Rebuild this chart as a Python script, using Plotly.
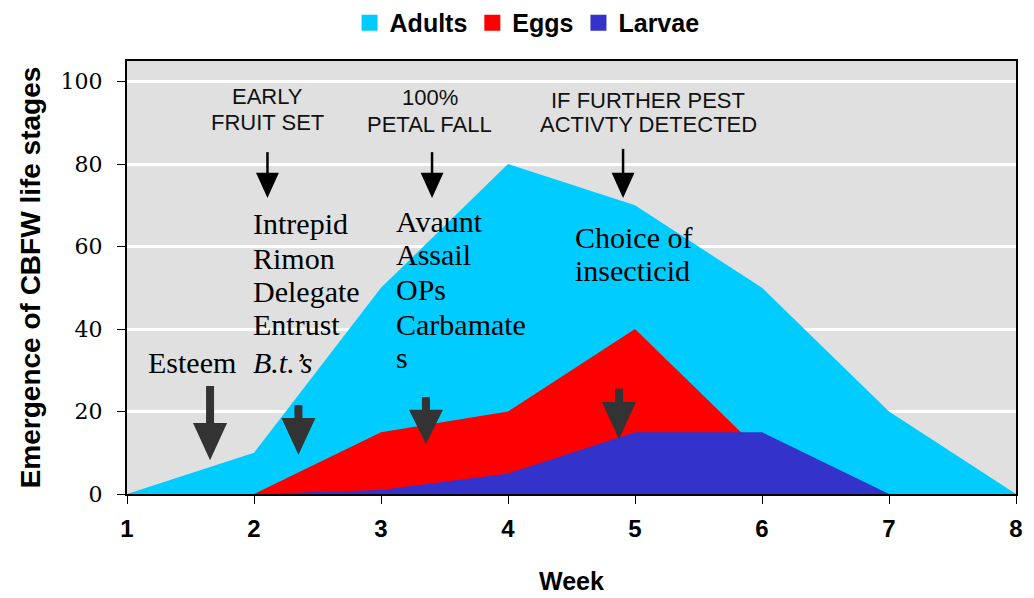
import plotly.graph_objects as go

# ---------------- data ----------------
weeks = [1, 2, 3, 4, 5, 6, 7, 8]
adults = [0, 10, 50, 80, 70, 50, 20, 0]
eggs = [0, 0, 15, 20, 40, 10, 0, 0]
larvae = [0, 0, 1, 5, 15, 15, 0, 0]

series_names = ["Adults", "Eggs", "Larvae"]
series_colors = ["#00CCFF", "#FF0000", "#3333CC"]
y_ticks = [0, 20, 40, 60, 80, 100]

fig = go.Figure()
for name, vals, col in zip(series_names, [adults, eggs, larvae], series_colors):
    fig.add_trace(go.Scatter(x=weeks, y=vals, mode="lines", fill="tozeroy",
                             fillcolor=col, line=dict(width=0, color=col),
                             name=name, showlegend=False, hoverinfo="x+y+name"))
# legend swatches
for name, col in zip(series_names, series_colors):
    fig.add_trace(go.Scatter(x=[None], y=[None], mode="markers", name=name,
                             marker=dict(symbol="square", size=18, color=col)))

# ---------------- decorations ----------------
shapes = []
DARK = "#333333"


def block_arrow(xc, y_top, y_neck, y_tip, shaft_hw=0.0315, head_hw=0.134):
    p = (f"M {xc-shaft_hw},{y_top} L {xc+shaft_hw},{y_top} L {xc+shaft_hw},{y_neck} "
         f"L {xc+head_hw},{y_neck} L {xc},{y_tip} L {xc-head_hw},{y_neck} "
         f"L {xc-shaft_hw},{y_neck} Z")
    return dict(type="path", path=p, xref="x", yref="y", fillcolor=DARK,
                line=dict(width=0), layer="above")


for xc, yt, yn, ytip in [(1.654, 26.2, 17.2, 8.2), (2.350, 21.6, 18.4, 9.5),
                         (3.354, 23.5, 20.4, 12.1), (4.874, 25.5, 22.3, 13.3)]:
    shapes.append(block_arrow(xc, yt, yn, ytip))


def thin_arrow(xc, y_top, y_tip, head_len=6.1, head_hw=0.09):
    line = dict(type="line", x0=xc, x1=xc, y0=y_top, y1=y_tip + head_len * 0.5,
                xref="x", yref="y", line=dict(color="black", width=2.5))
    head = dict(type="path", xref="x", yref="y", fillcolor="black", line=dict(width=0),
                path=f"M {xc-head_hw},{y_tip+head_len} L {xc+head_hw},{y_tip+head_len} L {xc},{y_tip} Z")
    return [line, head]


for xc, yt in [(2.106, 82.9), (3.402, 82.9), (4.906, 83.7)]:
    shapes.extend(thin_arrow(xc, yt, 71.8))

annotations = []
sans_labels = [("EARLY", 2.104, 96.3), ("FRUIT SET", 2.104, 90.0),
               ("100%", 3.386, 96.2), ("PETAL FALL", 3.382, 89.7),
               ("IF FURTHER PEST", 5.102, 95.5), ("ACTIVTY DETECTED", 5.106, 89.5)]
for t, x, y in sans_labels:
    annotations.append(dict(text=t, x=x, y=y, xref="x", yref="y", showarrow=False,
                            xanchor="center", yanchor="middle",
                            font=dict(family="Liberation Sans, Arial", size=22, color="#111111")))

serif_labels = [("Esteem", 1.150, 32.0),
                ("Intrepid", 1.977, 65.7), ("Rimon", 1.977, 57.2), ("Delegate", 1.977, 49.2),
                ("Entrust", 1.977, 41.0), ("<i>B.t.’s</i>", 1.977, 32.0),
                ("Avaunt", 3.103, 66.2), ("Assail", 3.103, 58.0), ("OPs", 3.103, 49.5),
                ("Carbamate", 3.103, 41.2), ("s", 3.103, 33.0),
                ("Choice of", 4.513, 62.3), ("insecticid", 4.513, 54.1)]
for t, x, y in serif_labels:
    annotations.append(dict(text=t, x=x, y=y, xref="x", yref="y", showarrow=False,
                            xanchor="left", yanchor="middle",
                            font=dict(family="Liberation Serif, Times New Roman", size=30, color="black")))

fig.update_layout(
    width=1026, height=590,
    margin=dict(l=119, r=18, t=53, b=104, autoexpand=False),
    paper_bgcolor="white", plot_bgcolor="#E0E0E0",
    shapes=shapes, annotations=annotations,
    showlegend=True,
    legend=dict(orientation="h", x=0.45, xanchor="center", y=1.088, yanchor="middle",
                font=dict(family="Liberation Sans, Arial", size=25, color="black", weight="bold"),
                itemsizing="trace", bgcolor="rgba(0,0,0,0)", borderwidth=0),
    xaxis=dict(range=[1, 8], tickvals=weeks, ticks="outside", ticklen=8, tickcolor="black",
               showline=True, linecolor="black", linewidth=2, mirror=True,
               showgrid=False, zeroline=False, automargin=False, ticklabelstandoff=4,
               tickfont=dict(family="Liberation Sans, Arial", size=24, color="black", weight="bold"),
               title=dict(text="Week", standoff=32,
                          font=dict(family="Liberation Sans, Arial", size=25, color="black", weight="bold"))),
    yaxis=dict(range=[0, 105], tickvals=y_ticks, ticks="outside", ticklen=8, tickcolor="black",
               showline=True, linecolor="black", linewidth=2, mirror=True,
               showgrid=True, gridcolor="white", gridwidth=2.5, zeroline=False, automargin=False,
               ticklabelstandoff=10,
               tickfont=dict(family="DejaVu Serif", size=22, color="black"),
               title=dict(text="Emergence of CBFW life stages", standoff=12,
                          font=dict(family="Liberation Sans, Arial", size=28, color="black", weight="bold"))),
)

fig.write_html("out.html")
